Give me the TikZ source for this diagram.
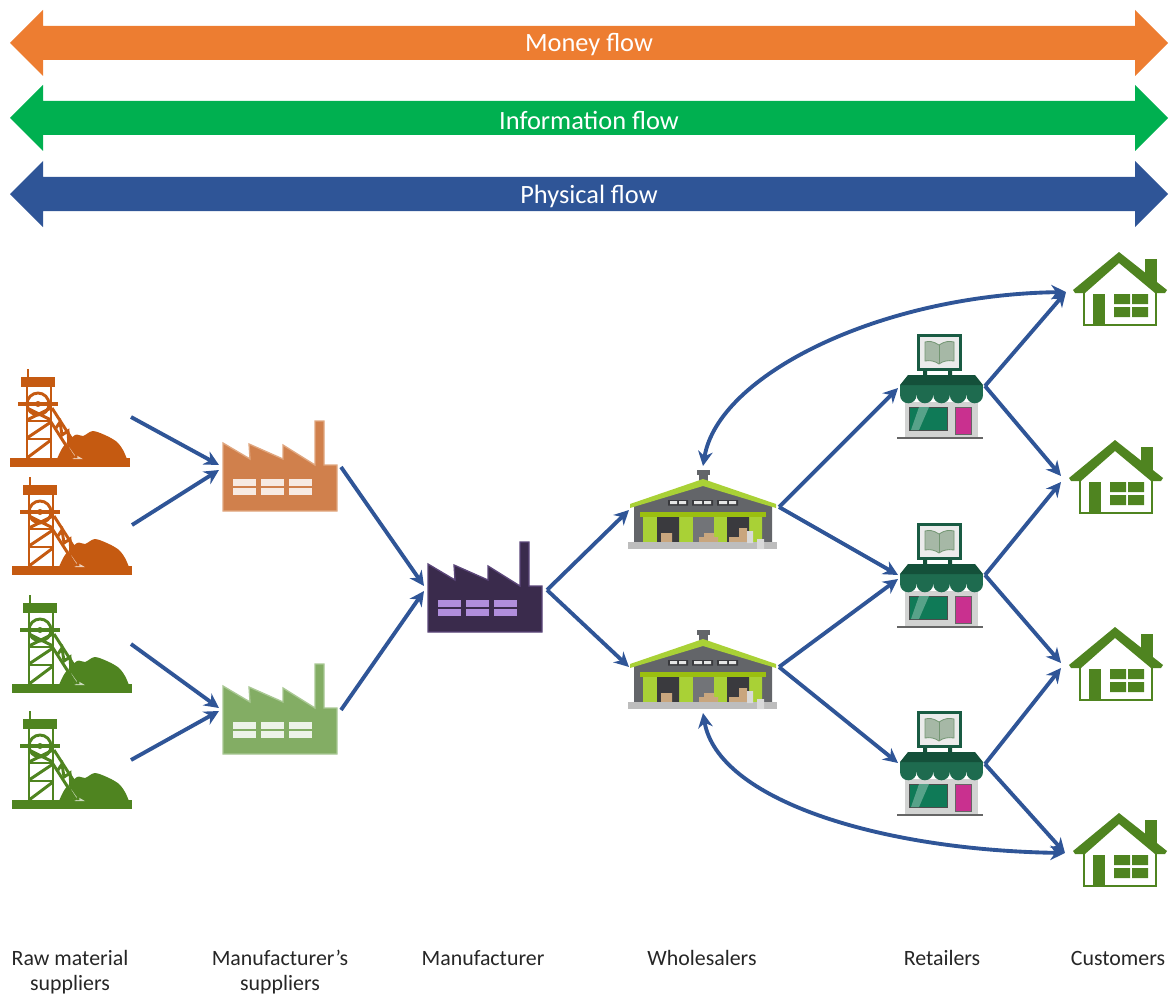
\documentclass[tikz,border=0pt]{standalone}
\usepackage{fontspec}
\setmainfont{Carlito}
\usetikzlibrary{arrows.meta}
\definecolor{flowO}{HTML}{ED7D31}
\definecolor{flowG}{HTML}{00B050}
\definecolor{flowB}{HTML}{2F5597}
\definecolor{mineO}{HTML}{C55A11}
\definecolor{mineG}{HTML}{4F8420}
\definecolor{facO}{HTML}{D0804C}
\definecolor{facOe}{HTML}{E0A780}
\definecolor{winO}{HTML}{F7EAE2}
\definecolor{facG}{HTML}{83AD64}
\definecolor{facGe}{HTML}{A9C894}
\definecolor{winG}{HTML}{EDF3E8}
\definecolor{facD}{HTML}{3A2B4C}
\definecolor{facDe}{HTML}{5B4679}
\definecolor{winD}{HTML}{B08EDC}
\definecolor{whGreen}{HTML}{A9D136}
\definecolor{whGreenD}{HTML}{9BBF10}
\definecolor{whGray}{HTML}{636569}
\definecolor{whDark}{HTML}{3A3A3E}
\definecolor{whBase}{HTML}{BDBDBD}
\definecolor{whBox}{HTML}{C9A67E}
\definecolor{shTop}{HTML}{14503A}
\definecolor{shFront}{HTML}{1E6B4F}
\definecolor{shWin}{HTML}{0F7A57}
\definecolor{shDoor}{HTML}{C9308F}
\definecolor{shBody}{HTML}{D2D3D2}
\tikzset{
  flowtext/.style={text=white,font=\fontsize{19.8}{22}\selectfont,inner sep=0pt},
  caption/.style={align=center,font=\fontsize{16.4}{18.8}\selectfont,text=black!85,inner sep=0pt,anchor=north},
  link/.style={draw=flowB,line width=2.9pt,-{Stealth[length=11pt,width=11pt]}},
  bilink/.style={draw=flowB,line width=2.9pt,{Stealth[length=11pt,width=11pt]}-{Stealth[length=11pt,width=11pt]}},
  pics/mine/.style={code={
    \fill[#1] (0,0) rectangle (120,9);
    \fill[#1] plot[smooth] coordinates {(47,1) (53,-11) (65,-23) (73,-22) (83,-27) (97,-22) (107,-16) (113,-8) (117,1)};
    \fill[#1!30!white] (50,-24) -- (64,-4) -- (73,1) -- (63,1) -- cycle;
    \begin{scope}[draw=#1,line width=2.2pt]
      \draw (18,-89) -- (18,-81);
      \draw (17,0) -- (17,-72) (41,0) -- (41,-72);
      \draw (17,-37) -- (41,-37) (17,-19) -- (41,-19);
      \draw (17,0) -- (41,-18) (17,-20) -- (41,-36) (17,-38) -- (41,-50) (17,-50) -- (41,-38);
      \draw (28,-54) circle (11);
      \draw (42,-50) -- (74,0) (41,-36) -- (64,0);
      \draw (46,-30) -- (50,-36) -- (52,-23) -- (58,-27) -- (59,-12) -- (66,-16) -- (66,0);
    \end{scope}
    \fill[#1] (11,-81) rectangle (45,-71);
    \fill[#1] (8,-56) rectangle (48,-52);
    \fill[#1] (28,-54) circle (3);
  }},
  pics/factory/.style n args={3}{code={
    \filldraw[fill=#1,draw=#2,line width=1pt]
      (0,0) -- (0,-68) -- (27,-52) -- (26,-67) -- (60,-52) -- (60,-66) -- (92,-46) -- (92,-90) -- (101,-90) -- (101,-46) -- (114,-46) -- (114,0) -- cycle;
    \foreach \wx in {10,38,66}{
      \fill[#3] (\wx,-32) rectangle ++(23,7);
      \fill[#3] (\wx,-23) rectangle ++(23,7);
    }
  }},
  pics/warehouse/.style={code={
    \fill[whGray] (69,-79) rectangle (82,-74);
    \fill[whGray] (71,-75) rectangle (80,-68);
    \fill[whGray] (6,-44) -- (75,-66) -- (144,-44) -- (144,-4) -- (6,-4) -- cycle;
    \fill[whGreen] (2,-45) -- (75,-70) -- (148,-45) -- (148,-41) -- (75,-63) -- (2,-41) -- cycle;
    \fill[whGreenD] (12,-37) rectangle (138,-32);
    \fill[whGreen] (15,-32) rectangle (29,-6) (51,-32) rectangle (65,-6) (86,-32) rectangle (99,-6) (121,-32) rectangle (134,-6);
    \fill[whDark] (29,-32) rectangle (51,-6) (99,-32) rectangle (121,-6);
    \fill[whGray!90!white] (65,-32) rectangle (86,-6);
    \fill[whBox] (33,-16) rectangle (44,-6) (71,-12) rectangle (90,-6) (76,-16) rectangle (86,-12) (101,-12) rectangle (119,-6) (111,-21) rectangle (119,-12);
    \fill[whDark] (40,-49) rectangle (60,-43.5) (64,-49) rectangle (85,-43.5) (89,-49) rectangle (110,-43.5);
    \fill[white!90!black] (42,-48) rectangle (49,-45) (51,-48) rectangle (58,-45) (66,-48) rectangle (74,-45) (76,-48) rectangle (83,-45) (91,-48) rectangle (99,-45) (101,-48) rectangle (108,-45);
    \fill[whBase] (0,-7) rectangle (149,0);
    \fill[black!15] (119,-18) rectangle (125,-6) (129,-10) rectangle (136,0);
  }},
  pics/shop/.style={code={
    \fill[shBody] (8,-36) rectangle (81,-1);
    \draw[black!60,line width=1.1pt] (0,0) -- (86,0);
    \filldraw[fill=shWin,draw=black!70,line width=.6pt] (12,-31) rectangle (50,-8);
    \fill[shWin!70!white] (22,-31) -- (32,-31) -- (22,-8) -- (14,-8) -- cycle;
    \filldraw[fill=shDoor,draw=black!60,line width=.6pt] (58,-31) rectangle (74,-4);
    \fill[shFront] (3,-53) rectangle (86,-43);
    \foreach \sx in {11.3,27.9,44.5,61.1,77.7}{\fill[shFront] (\sx,-43) circle (8.3);}
    \fill[shTop] (11,-63) -- (78,-63) -- (86,-53) -- (3,-53) -- cycle;
    \fill[shTop] (26,-68) rectangle (30,-63) (51,-68) rectangle (55,-63);
    \filldraw[fill=black!8,draw=shFront!85!black,line width=2.6pt] (21.5,-102.5) rectangle (63.5,-68.5);
    \filldraw[fill=green!20!black!35!white,draw=green!25!black!55!white,line width=.6pt] (42,-93) .. controls (36,-97) and (32,-97) .. (28,-96) -- (28,-77) .. controls (33,-78) and (38,-77) .. (42,-74) .. controls (46,-77) and (51,-78) .. (57,-77) -- (57,-96) .. controls (52,-97) and (48,-97) .. (42,-93) -- cycle;
    \draw[green!25!black!55!white,line width=.6pt] (42,-93) -- (42,-74);
  }},
  pics/house/.style={code={
    \fill[mineG] (72,-67) rectangle (84,-42);
    \fill[mineG] (46,-74) -- (94,-36) -- (92,-33) -- (82,-33) -- (46,-63) -- (12,-33) -- (2,-33) -- (0,-36) -- cycle;
    \draw[mineG,line width=1.7pt] (11,-34) -- (11,-1) -- (83,-1) -- (83,-34);
    \fill[mineG] (20,-32) rectangle (32,-1);
    \fill[mineG] (41,-32) rectangle (57,-22) (59,-32) rectangle (75,-22) (41,-19) rectangle (57,-9) (59,-19) rectangle (75,-9);
  }}
}
\begin{document}
\begin{tikzpicture}[x=0.75pt,y=-0.75pt]
\useasboundingbox (0,0) rectangle (1170,995);
% flow bars
\foreach \cy/\col/\nm/\txt in {43/flowO/money/Money flow,118/flowG/info/Information flow,194/flowB/phys/Physical flow}{
  \fill[\col] (10,\cy) -- (43,\cy-33) -- (43,\cy-17) -- (1135,\cy-17) -- (1135,\cy-33) -- (1168,\cy) -- (1135,\cy+33) -- (1135,\cy+17) -- (43,\cy+17) -- (43,\cy+33) -- cycle;
  \node[flowtext] (\nm) at (589,\cy+2) {\txt};
}
% icons
\pic at (10,458) {mine=mineO};
\pic at (12,566) {mine=mineO};
\pic at (12,684) {mine=mineG};
\pic at (12,800) {mine=mineG};
\pic at (223,511) {factory={facO}{facOe}{winO}};
\pic at (223,754) {factory={facG}{facGe}{winG}};
\pic at (428,632) {factory={facD}{facDe}{winD}};
\pic at (628,549) {warehouse};
\pic at (628,709) {warehouse};
\pic at (897,438) {shop};
\pic at (897,627) {shop};
\pic at (897,815) {shop};
\pic at (1073,326) {house};
\pic at (1069,514) {house};
\pic at (1069,701) {house};
\pic at (1073,887) {house};
% anchor points
\coordinate (m1) at (131,417);
\coordinate (m2) at (132,525);
\coordinate (m3) at (131,644);
\coordinate (m4) at (131,760);
\coordinate (f1i1) at (219,465);
\coordinate (f1i2) at (219,470);
\coordinate (f2i1) at (219,708);
\coordinate (f2i2) at (219,711);
\coordinate (f1o) at (341,467);
\coordinate (f2o) at (341,710);
\coordinate (f3i1) at (424,586);
\coordinate (f3i2) at (424,591);
\coordinate (f3o) at (547,590);
\coordinate (w1i) at (629,510);
\coordinate (w2i) at (629,667);
\coordinate (w1o) at (779,507);
\coordinate (w2o) at (779,667);
\coordinate (w1t) at (703,466);
\coordinate (w2b) at (703,713);
\coordinate (s1i) at (898,388);
\coordinate (s2i1) at (898,575);
\coordinate (s2i2) at (898,579);
\coordinate (s3i) at (898,763);
\coordinate (s1o) at (985,386);
\coordinate (s2o) at (985,575);
\coordinate (s3o) at (985,764);
\coordinate (h1i) at (1066,292);
\coordinate (h2i1) at (1061,476);
\coordinate (h2i2) at (1061,482);
\coordinate (h3i1) at (1061,663);
\coordinate (h3i2) at (1061,668);
\coordinate (h4i) at (1065,853);
% connectors
\draw[link] (m1) -- (f1i1);
\draw[link] (m2) -- (f1i2);
\draw[link] (m3) -- (f2i1);
\draw[link] (m4) -- (f2i2);
\draw[link] (f1o) -- (f3i1);
\draw[link] (f2o) -- (f3i2);
\draw[link] (f3o) -- (w1i);
\draw[link] (f3o) -- (w2i);
\draw[link] (w1o) -- (s1i);
\draw[link] (w1o) -- (s2i1);
\draw[link] (w2o) -- (s2i2);
\draw[link] (w2o) -- (s3i);
\draw[link] (s1o) -- (h1i);
\draw[link] (s1o) -- (h2i1);
\draw[link] (s2o) -- (h2i2);
\draw[link] (s2o) -- (h3i1);
\draw[link] (s3o) -- (h3i2);
\draw[link] (s3o) -- (h4i);
\draw[bilink] (w1t) .. controls (718,375) and (880,295) .. (h1i);
\draw[bilink] (w2b) .. controls (718,800) and (880,850) .. (h4i);
% captions
\node[caption] (c1) at (70,948) {\strut Raw material\\suppliers};
\node[caption] (c2) at (280,948) {\strut Manufacturer’s\\suppliers};
\node[caption] (c3) at (483,948) {\strut Manufacturer};
\node[caption] (c4) at (702,948) {\strut Wholesalers};
\node[caption] (c5) at (942,948) {\strut Retailers};
\node[caption] (c6) at (1118,948) {\strut Customers};
\end{tikzpicture}
\end{document}
